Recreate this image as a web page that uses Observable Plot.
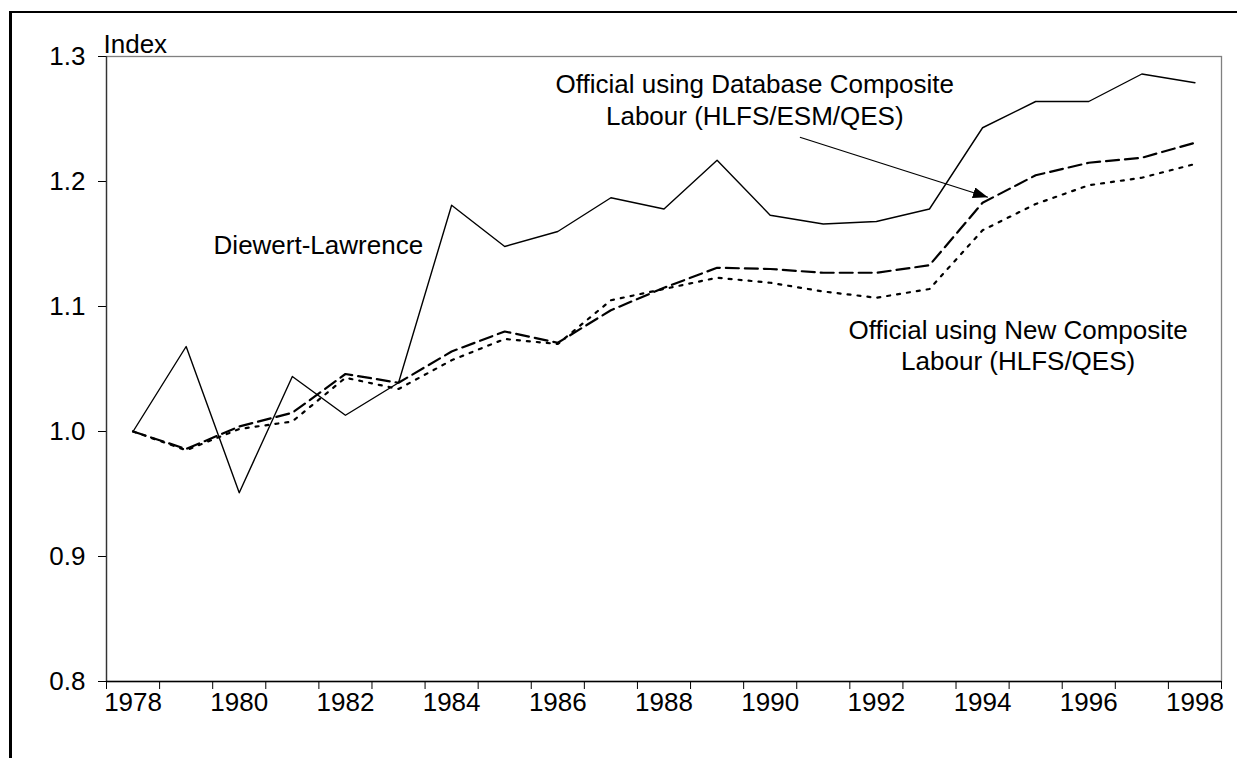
<!DOCTYPE html>
<html>
<head>
<meta charset="utf-8">
<script src="https://cdn.jsdelivr.net/npm/d3@7"></script>
<script src="https://cdn.jsdelivr.net/npm/@observablehq/plot@0.6"></script>
<style>
  html, body { margin: 0; padding: 0; background: #fff; overflow: hidden; }
  body { width: 1237px; height: 758px; position: relative; font-family: "Liberation Sans", Arial, sans-serif; }
  #chart { position: absolute; left: 0; top: 0; }
  #frame { position: absolute; left: 9px; top: 11px; width: 1400px; height: 900px;
           border-left: 3px solid #000; border-top: 2px solid #000; pointer-events: none; }
</style>
</head>
<body>
<div id="chart"></div>
<div id="frame"></div>
<script>
// ---- data ----
const years = [1978, 1979, 1980, 1981, 1982, 1983, 1984, 1985, 1986, 1987, 1988,
               1989, 1990, 1991, 1992, 1993, 1994, 1995, 1996, 1997, 1998];
const diewertLawrence = [1.000, 1.068, 0.951, 1.044, 1.013, 1.039, 1.181, 1.148, 1.160, 1.187, 1.178,
                         1.217, 1.173, 1.166, 1.168, 1.178, 1.243, 1.264, 1.264, 1.286, 1.279];
const officialDatabase = [1.000, 0.986, 1.004, 1.015, 1.046, 1.039, 1.064, 1.080, 1.071, 1.097, 1.115,
                          1.131, 1.130, 1.127, 1.127, 1.133, 1.183, 1.205, 1.215, 1.219, 1.231];
const officialNew = [1.000, 0.985, 1.002, 1.008, 1.043, 1.034, 1.057, 1.074, 1.070, 1.105, 1.114,
                     1.123, 1.119, 1.112, 1.107, 1.114, 1.161, 1.182, 1.197, 1.203, 1.214];
const xTickLabels = [1978, 1980, 1982, 1984, 1986, 1988, 1990, 1992, 1994, 1996, 1998];
const yTicks = [0.8, 0.9, 1.0, 1.1, 1.2, 1.3];
const yAxisLabel = "Index";
const labelDiewert = "Diewert-Lawrence";
const labelDatabase = "Official using Database Composite\nLabour (HLFS/ESM/QES)";
const labelNew = "Official using New Composite\nLabour (HLFS/QES)";

// ---- derived tables ----
const rows = (vals) => years.map((y, i) => ({year: y, value: vals[i]}));
const categoryBounds = d3.range(years[0] - 0.5, years[years.length - 1] + 1, 1);
const xDomain = [years[0] - 0.5, years[years.length - 1] + 0.5];

const FONT = 26;

function filledArrow(color) {
  const ns = "http://www.w3.org/2000/svg";
  const m = document.createElementNS(ns, "marker");
  m.setAttribute("viewBox", "0 -5.5 15 11");
  m.setAttribute("markerWidth", "15");
  m.setAttribute("markerHeight", "11");
  m.setAttribute("markerUnits", "userSpaceOnUse");
  m.setAttribute("refX", "15");
  m.setAttribute("refY", "0");
  m.setAttribute("orient", "auto");
  const p = document.createElementNS(ns, "path");
  p.setAttribute("d", "M0,-5.5L15,0L0,5.5Z");
  p.setAttribute("fill", color);
  p.setAttribute("stroke", "none");
  m.appendChild(p);
  return m;
}

const chart = Plot.plot({
  width: 1237,
  height: 758,
  marginLeft: 106,
  marginRight: 16,
  marginTop: 56,
  marginBottom: 77,
  style: {background: "transparent", fontFamily: "'Liberation Sans', Arial, sans-serif", fontSize: FONT + "px", color: "#000", overflow: "visible"},
  x: {domain: xDomain, axis: null},
  y: {domain: [0.8, 1.3], axis: null},
  marks: [
    // plot area border (grey top/right)
    Plot.frame({stroke: "#808080", strokeWidth: 1.3}),
    // axes
    Plot.axisY({ticks: yTicks, tickFormat: d3.format(".1f"), tickSize: 8, tickPadding: 13,
                fontSize: FONT, stroke: "#000"}),
    Plot.axisX({ticks: categoryBounds, tickFormat: () => "", tickSize: 8, stroke: "#000"}),
    Plot.axisX({ticks: xTickLabels, tickFormat: d3.format("d"), tickSize: 0, tickPadding: 11,
                fontSize: FONT}),
    Plot.ruleX([xDomain[0]], {stroke: "#333", strokeWidth: 1.3}),
    Plot.ruleY([0.8], {stroke: "#000", strokeWidth: 1.5}),
    // series
    Plot.line(rows(officialNew), {x: "year", y: "value", stroke: "#000", strokeWidth: 2.2,
              strokeDasharray: "3,7"}),
    Plot.line(rows(officialDatabase), {x: "year", y: "value", stroke: "#000", strokeWidth: 2.2,
              strokeDasharray: "13,6"}),
    Plot.line(rows(diewertLawrence), {x: "year", y: "value", stroke: "#000", strokeWidth: 1.4}),
    // annotations
    Plot.text([yAxisLabel], {x: xDomain[0], y: 1.3, text: d => d, textAnchor: "start",
              lineAnchor: "bottom", dx: -3, dy: -4, fontSize: FONT, fill: "#000"}),
    Plot.text([labelDiewert], {x: 1981.49, y: 1.149, text: d => d, textAnchor: "middle",
              lineAnchor: "middle", fontSize: FONT, fill: "#000"}),
    Plot.text([labelDatabase], {x: 1989.71, y: 1.2456, text: d => d, textAnchor: "middle",
              lineAnchor: "bottom", lineHeight: 1.2, fontSize: FONT, fill: "#000"}),
    Plot.text([labelNew], {x: 1994.67, y: 1.049, text: d => d, textAnchor: "middle",
              lineAnchor: "bottom", lineHeight: 1.22, fontSize: FONT, fill: "#000"}),
    Plot.link([{x1: 1990.56, y1: 1.2354, x2: 1994.1, y2: 1.1874}],
              {x1: "x1", y1: "y1", x2: "x2", y2: "y2", stroke: "#000", strokeWidth: 1.3,
               markerEnd: filledArrow})
  ]
});
document.getElementById("chart").appendChild(chart);
</script>
</body>
</html>
